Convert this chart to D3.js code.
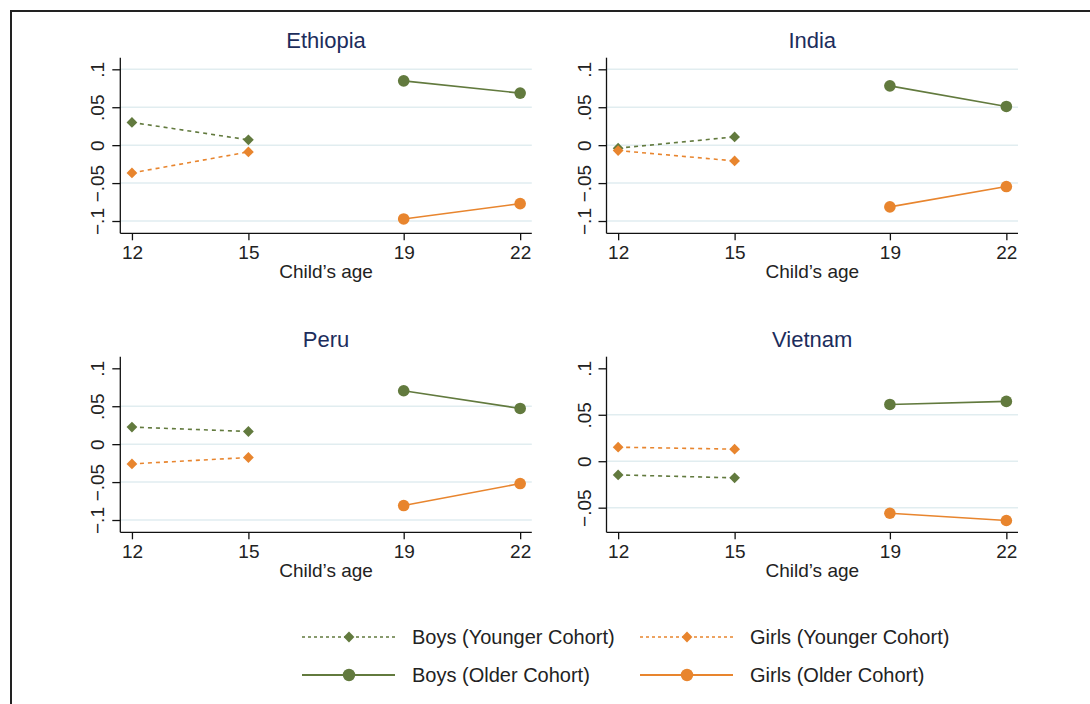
<!DOCTYPE html>
<html>
<head>
<meta charset="utf-8">
<script src="https://cdn.jsdelivr.net/npm/d3@7"></script>
<style>
  body { margin: 0; background: #fff; }
  svg { display: block; font-family: "Liberation Sans", Arial, Helvetica, sans-serif; }
</style>
</head>
<body>
<div id="chart"></div>
<script>
// data
var ages = [12, 15, 19, 22]
var youngAges = [12, 15]
var oldAges = [19, 22]
var countries = ["Ethiopia", "India", "Peru", "Vietnam"]

// one pair per country, same order as countries
var boysYounger = [[0.030, 0.007], [-0.004, 0.0109], [0.0225, 0.0167], [-0.0147, -0.0179]]
var girlsYounger = [[-0.0366, -0.0089], [-0.0071, -0.0208], [-0.026, -0.0176], [0.0151, 0.013]]
var boysOlder = [[0.0848, 0.0686], [0.0782, 0.051], [0.0704, 0.0471], [0.0611, 0.0644]]
var girlsOlder = [[-0.0973, -0.0771], [-0.0814, -0.0546], [-0.0809, -0.0519], [-0.056, -0.0638]]

var yTicks = [[-0.1, -0.05, 0, 0.05, 0.1], [-0.1, -0.05, 0, 0.05, 0.1], [-0.1, -0.05, 0, 0.05, 0.1], [-0.05, 0, 0.05, 0.1]]
// bottom two panels show no grid line at .1
var gridTicks = [[-0.1, -0.05, 0, 0.05, 0.1], [-0.1, -0.05, 0, 0.05, 0.1], [-0.1, -0.05, 0, 0.05], [-0.05, 0, 0.05]]
var yDomains = [[-0.1162, 0.1153], [-0.1162, 0.1153], [-0.1162, 0.1153], [-0.0765, 0.1125]]
var tickText = {"-0.1": "\u2212.1", "-0.05": "\u2212.05", "0": "0", "0.05": ".05", "0.1": ".1"}

var legendNames = ["Boys (Younger Cohort)", "Girls (Younger Cohort)", "Boys (Older Cohort)", "Girls (Older Cohort)"]

var green = "#627a3e", orange = "#e8852e", navy = "#1c2d5c"

var svg = d3.select("#chart").append("svg")
    .attr("width", 1090)
    .attr("height", 704)

// outer frame, runs off the right and bottom edge
svg.append("rect")
    .attr("x", 11).attr("y", 11)
    .attr("width", 1200).attr("height", 800)
    .attr("fill", "none").attr("stroke", "#222").attr("stroke-width", 2)

var panelW = 411.5, panelH = 175.6
var panelLefts = [120.3, 606.5], panelTops = [57.7, 356.7]

countries.forEach(function(country, c) {
    var px = panelLefts[c % 2], py = panelTops[Math.floor(c / 2)]
    var g = svg.append("g").attr("transform", "translate(" + px + "," + py + ")")

    var x = d3.scaleLinear().domain([11.7, 22.3]).range([0, panelW])
    var y = d3.scaleLinear().domain(yDomains[c]).range([panelH, 0])

    // grid
    g.selectAll(".grid").data(gridTicks[c]).enter().append("line")
        .attr("x1", 0).attr("x2", panelW)
        .attr("y1", function(d){ return y(d) }).attr("y2", function(d){ return y(d) })
        .attr("stroke", "#e1edf0").attr("stroke-width", 1.5)

    // y axis
    var yAxis = g.append("g").call(d3.axisLeft(y).tickValues(yTicks[c]).tickSize(8).tickFormat(function(d){ return tickText[String(d)] }))
    yAxis.select(".domain").attr("d", "M0,0V" + panelH).attr("stroke", "#111").attr("stroke-width", 1.3)
    yAxis.selectAll(".tick line").attr("stroke", "#111").attr("stroke-width", 1.3)
    yAxis.selectAll(".tick text")
        .attr("x", null).attr("dy", null)
        .attr("transform", "translate(-16,0) rotate(-90)")
        .attr("text-anchor", "middle")
        .attr("font-size", 19).attr("fill", "#222")
        .attr("font-family", "Liberation Sans, Arial, sans-serif")

    // x axis
    var xAxis = g.append("g").attr("transform", "translate(0," + panelH + ")")
        .call(d3.axisBottom(x).tickValues(ages).tickSize(7).tickFormat(d3.format("d")))
    xAxis.select(".domain").attr("d", "M0,0H" + panelW).attr("stroke", "#111").attr("stroke-width", 1.3)
    xAxis.selectAll(".tick line").attr("stroke", "#111").attr("stroke-width", 1.3)
    xAxis.selectAll(".tick text")
        .attr("y", 26).attr("dy", null)
        .attr("font-size", 19).attr("fill", "#222")
        .attr("font-family", "Liberation Sans, Arial, sans-serif")

    g.append("text")
        .attr("x", panelW / 2).attr("y", panelH + 45)
        .attr("text-anchor", "middle").attr("font-size", 19).attr("fill", "#222")
        .text("Child\u2019s age")

    g.append("text")
        .attr("x", panelW / 2).attr("y", -10)
        .attr("text-anchor", "middle").attr("font-size", 22).attr("fill", navy)
        .text(country)

    var series = [
        {vals: boysYounger[c], ages: youngAges, color: green, dash: "4,4", shape: "diamond"},
        {vals: girlsYounger[c], ages: youngAges, color: orange, dash: "4,4", shape: "diamond"},
        {vals: boysOlder[c], ages: oldAges, color: green, dash: null, shape: "circle"},
        {vals: girlsOlder[c], ages: oldAges, color: orange, dash: null, shape: "circle"}
    ]

    var line = d3.line()
        .x(function(d){ return x(d[0]) })
        .y(function(d){ return y(d[1]) })

    series.forEach(function(s) {
        var pts = s.ages.map(function(a, i){ return [a, s.vals[i]] })
        g.append("path").datum(pts)
            .attr("d", line).attr("fill", "none")
            .attr("stroke", s.color).attr("stroke-width", 1.6)
            .attr("stroke-dasharray", s.dash)
    })
    series.forEach(function(s) {
        var pts = s.ages.map(function(a, i){ return [a, s.vals[i]] })
        if (s.shape == "diamond") {
            g.selectAll(null).data(pts).enter().append("path")
                .attr("d", d3.symbol().type(d3.symbolSquare).size(58))
                .attr("transform", function(d){ return "translate(" + x(d[0]) + "," + y(d[1]) + ") rotate(45)" })
                .attr("fill", s.color)
        } else {
            g.selectAll(null).data(pts).enter().append("circle")
                .attr("cx", function(d){ return x(d[0]) }).attr("cy", function(d){ return y(d[1]) })
                .attr("r", 5.8).attr("fill", s.color)
        }
    })
})

// legend
var legX = [302, 640], legY = [637, 675]
var legStyle = [
    {color: green, dash: "3,3", shape: "diamond"},
    {color: orange, dash: "3,3", shape: "diamond"},
    {color: green, dash: null, shape: "circle"},
    {color: orange, dash: null, shape: "circle"}
]
legendNames.forEach(function(label, i) {
    var lx = legX[i % 2], ly = legY[Math.floor(i / 2)], st = legStyle[i]
    var lg = svg.append("g").attr("transform", "translate(" + lx + "," + ly + ")")
    lg.append("line").attr("x1", 0).attr("x2", 93).attr("y1", 0).attr("y2", 0)
        .attr("stroke", st.color).attr("stroke-width", st.dash ? 1.6 : 2)
        .attr("stroke-dasharray", st.dash)
    if (st.shape == "diamond") {
        lg.append("path").attr("d", d3.symbol().type(d3.symbolSquare).size(58))
            .attr("transform", "translate(47,0) rotate(45)").attr("fill", st.color)
    } else {
        lg.append("circle").attr("cx", 47).attr("r", 6.2).attr("fill", st.color)
    }
    lg.append("text").attr("x", 110).attr("y", 7)
        .attr("font-size", 20).attr("fill", "#222")
        .text(label)
})
</script>
</body>
</html>
